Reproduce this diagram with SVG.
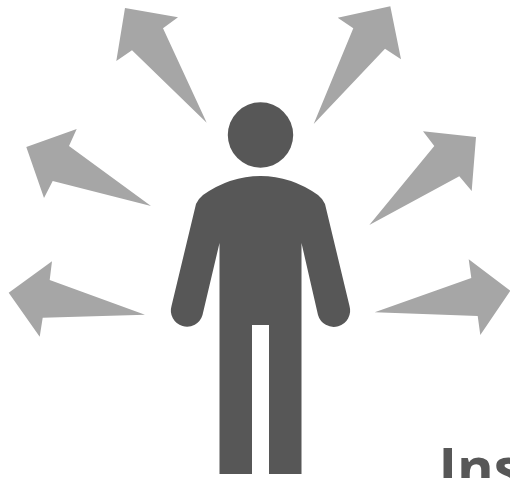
<svg xmlns="http://www.w3.org/2000/svg" width="510" height="478" viewBox="0 0 510 478">
<style>
.arrow{fill:#a6a6a6}
.person{fill:#575757}
.label{font-family:"Open Sans","Liberation Sans",sans-serif;font-weight:700;font-size:56px;fill:#575757}
</style>
<rect width="510" height="478" fill="#fff"/>
<g id="connectors">
<polygon class="arrow" points="125,8 178,17.3 163,28.3 206.7,122.7 132,50.3 116.3,61"/>
<polygon class="arrow" points="26.3,147 76.7,129 69,146 151,206 52.7,181 44,198"/>
<polygon class="arrow" points="8.7,292.7 52,261.3 49.7,280 145,314.7 42.7,317.7 39.7,336.7"/>
<polygon class="arrow" points="390.3,6.3 337.7,17.7 353.3,28.3 313.7,124 385,48.7 401,59.3"/>
<polygon class="arrow" points="476,137 423,131.3 434.3,146 369.3,225 459.3,176.3 471.7,191"/>
<polygon class="arrow" points="510.3,290.7 468.7,259.3 471.3,278 374.7,312.3 477.7,316 480.3,335"/>
</g>
<g id="person">
<circle class="person" cx="260.5" cy="135" r="32.7"/>
<path class="person" d="M196,204 Q198,199 203,195 Q230,176 260.5,176 Q291,176 318,195 Q323,199 325,204 L349.5,306 A16,16 0 0 1 318,315 L301.5,243 L301.5,474 L269,474 L269,325 L252,325 L252,474 L219.5,474 L219.5,243 L202.5,315 A16,16 0 0 1 171.5,306 Z"/>
</g>
<g id="label">
<text class="label" x="438.5" y="488">Ins</text>
</g>
</svg>
